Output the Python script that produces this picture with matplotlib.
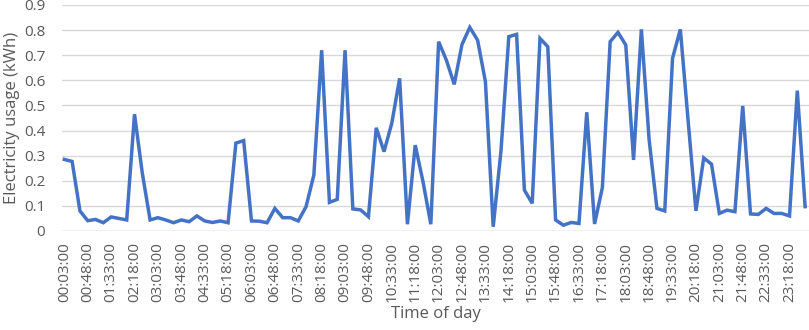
import matplotlib
matplotlib.use("Agg")
import matplotlib.pyplot as plt

# 96 readings at 15-minute intervals starting 00:03:00
start_minute = 3
step_minutes = 15
usage = [
    0.285, 0.277, 0.080, 0.041, 0.046, 0.033, 0.056, 0.050, 0.044, 0.465,
    0.230, 0.044, 0.053, 0.044, 0.033, 0.044, 0.037, 0.060, 0.040, 0.034,
    0.040, 0.033, 0.350, 0.360, 0.040, 0.039, 0.033, 0.090, 0.053, 0.053,
    0.040, 0.097, 0.223, 0.720, 0.114, 0.126, 0.720, 0.088, 0.084, 0.057,
    0.411, 0.316, 0.430, 0.608, 0.027, 0.342, 0.196, 0.027, 0.754, 0.680,
    0.584, 0.743, 0.811, 0.760, 0.595, 0.017, 0.320, 0.774, 0.783, 0.163,
    0.110, 0.767, 0.734, 0.044, 0.023, 0.034, 0.030, 0.473, 0.028, 0.173,
    0.754, 0.791, 0.741, 0.283, 0.803, 0.362, 0.090, 0.080, 0.688, 0.803,
    0.438, 0.080, 0.291, 0.266, 0.070, 0.083, 0.077, 0.498, 0.068, 0.066,
    0.090, 0.070, 0.070, 0.060, 0.559, 0.097,
]
times = []
for k in range(len(usage)):
    m = start_minute + step_minutes * k
    times.append(f"{m // 60:02d}:{m % 60:02d}:00")
label_every = 3
y_ticks = [0, 0.1, 0.2, 0.3, 0.4, 0.5, 0.6, 0.7, 0.8, 0.9]
y_tick_labels = ["0", "0.1", "0.2", "0.3", "0.4", "0.5", "0.6", "0.7", "0.8", "0.9"]

plt.rcParams['font.family'] = ['Open Sans', 'DejaVu Sans']
text_col = "#595959"

fig = plt.figure(figsize=(8.09, 3.30), dpi=100)
ax = fig.add_axes([62/809, 1-231/330, 1-62/809, 226/330])

x = list(range(len(usage)))
ax.plot(x, usage, color="#4472C4", linewidth=2.5, solid_joinstyle="miter")

ax.set_ylim(0, 0.9)
ax.set_xlim(-0.3, len(usage) - 0.5)
ax.set_yticks(y_ticks)
ax.set_yticklabels(y_tick_labels)
ax.set_xticks(x[::label_every])
ax.set_xticklabels(times[::label_every], rotation=90)
ax.tick_params(axis='both', length=0, colors=text_col, labelsize=11)
ax.tick_params(axis='y', pad=12)
ax.tick_params(axis='x', pad=8)
for s in ax.spines.values():
    s.set_visible(False)
ax.grid(axis='y', color="#D9D9D9", linewidth=1.0)
ax.set_axisbelow(True)
ax.axhline(0, color="#D9D9D9", linewidth=1.0, zorder=0)

ax.set_ylabel("Electricity usage (kWh)", color=text_col, fontsize=12, labelpad=3)
ax.set_xlabel("Time of day", color=text_col, fontsize=12, labelpad=3)

fig.savefig("out.png", dpi=100)
